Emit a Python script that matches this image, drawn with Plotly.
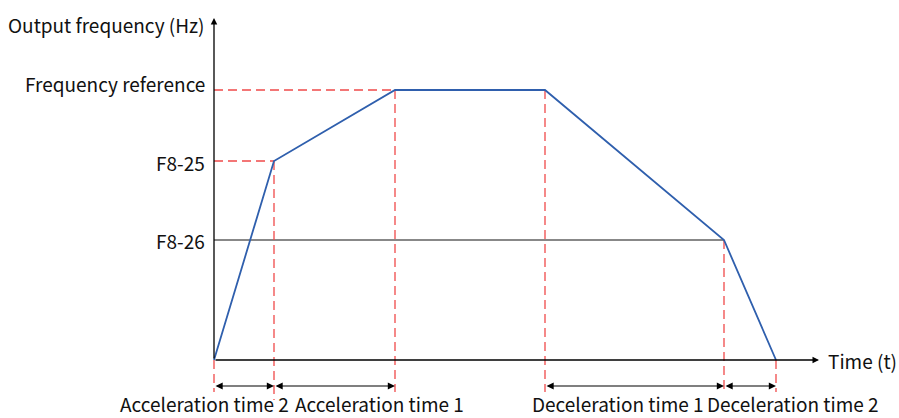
import plotly.graph_objects as go

# key points of the speed profile (time units, frequency units)
t_pts = [0, 60, 181, 331, 510, 562]
f_pts = [0, 199, 270, 270, 120, 0]

f_ref = 270
f8_25 = 199
f8_26 = 120

level_labels = ["Frequency reference", "F8-25", "F8-26"]
level_values = [f_ref, f8_25, f8_26]
y_title = "Output frequency (Hz)"
x_title = "Time (t)"
seg_labels = ["Acceleration time 2", "Acceleration time 1",
              "Deceleration time 1", "Deceleration time 2"]
seg_bounds = [(t_pts[0], t_pts[1]), (t_pts[1], t_pts[2]),
              (t_pts[3], t_pts[4]), (t_pts[4], t_pts[5])]

FONT = "Noto Sans CJK SC"
RED = "#f04a4a"
BLUE = "#2f5fad"
FS = 19

fig = go.Figure()

def seg(x, y, color, width=1.3, dash=None):
    fig.add_trace(go.Scatter(x=x, y=y, mode="lines", hoverinfo="skip", showlegend=False,
                             line=dict(color=color, width=width, dash=dash)))

# F8-26 solid gray line
seg([0, t_pts[4]], [f8_26, f8_26], "#606060", 1.6)

# horizontal red dashed guides
seg([0, t_pts[2]], [f_ref, f_ref], RED, 1.3, "9px,5px")
seg([0, t_pts[1]], [f8_25, f8_25], RED, 1.3, "9px,5px")

# vertical red dashed guides
seg([t_pts[0], t_pts[0]], [0, -32], RED, 1.3, "9px,5px")
seg([t_pts[1], t_pts[1]], [f8_25, -40], RED, 1.3, "9px,5px")
seg([t_pts[2], t_pts[2]], [f_ref, -32], RED, 1.3, "9px,5px")
seg([t_pts[3], t_pts[3]], [f_ref, -32], RED, 1.3, "9px,5px")
seg([t_pts[4], t_pts[4]], [f8_26, -32], RED, 1.3, "9px,5px")
seg([t_pts[5], t_pts[5]], [0, -32], RED, 1.3, "9px,5px")

# profile
seg(t_pts, f_pts, BLUE, 1.8)

ann = []
# axes with arrows
ann.append(dict(x=0, y=342, ax=0, ay=0, xref="x", yref="y", axref="x", ayref="y",
                showarrow=True, arrowhead=2, arrowsize=1, arrowwidth=1.3, arrowcolor="#000",
                text=""))
ann.append(dict(x=605, y=0, ax=0, ay=0, xref="x", yref="y", axref="x", ayref="y",
                showarrow=True, arrowhead=2, arrowsize=1, arrowwidth=1.3, arrowcolor="#000",
                text=""))

# double-headed span arrows
for a, b in seg_bounds:
    ann.append(dict(x=b, y=-26, ax=a, ay=-26, xref="x", yref="y", axref="x", ayref="y",
                    showarrow=True, arrowhead=2, arrowside="end+start", arrowsize=1.2,
                    arrowwidth=1.2, arrowcolor="#000", text="", standoff=0, startstandoff=0))

txt_font = dict(size=FS, family=FONT, color="#111")
# texts
ann.append(dict(x=-7, y=336, xref="x", yref="y", text=y_title, showarrow=False,
                xanchor="right", yanchor="middle", font=txt_font))
for lab, v, dy in zip(level_labels, level_values, [7, -1, 0]):
    ann.append(dict(x=-7, y=v + dy, xref="x", yref="y", text=lab, showarrow=False,
                    xanchor="right", yanchor="middle", font=txt_font))
ann.append(dict(x=612, y=0, xref="x", yref="y", text=x_title, showarrow=False,
                xanchor="left", yanchor="middle", font=txt_font))

# bottom span labels, packed around the boundaries as in the source figure
label_pos = [(t_pts[1] + 16, "right"), (t_pts[1] + 20, "left"),
             (t_pts[4] - 19, "right"), (t_pts[4] - 18, "left")]
for lab, (x, anc) in zip(seg_labels, label_pos):
    ann.append(dict(x=x, y=-58, xref="x", yref="y", text=lab, showarrow=False,
                    xanchor=anc, yanchor="bottom", borderpad=0, font=txt_font))

fig.update_layout(
    width=899, height=418,
    margin=dict(l=0, r=0, t=0, b=0),
    paper_bgcolor="white", plot_bgcolor="white",
    xaxis=dict(range=[-214, 685], visible=False, fixedrange=True),
    yaxis=dict(range=[-58, 360], visible=False, fixedrange=True),
    annotations=ann,
    showlegend=False,
)

# drop the default 8px page margin so the figure fills the window
fig.write_html("out.html", config={"displayModeBar": False},
               post_script="document.body.style.margin='0';")
